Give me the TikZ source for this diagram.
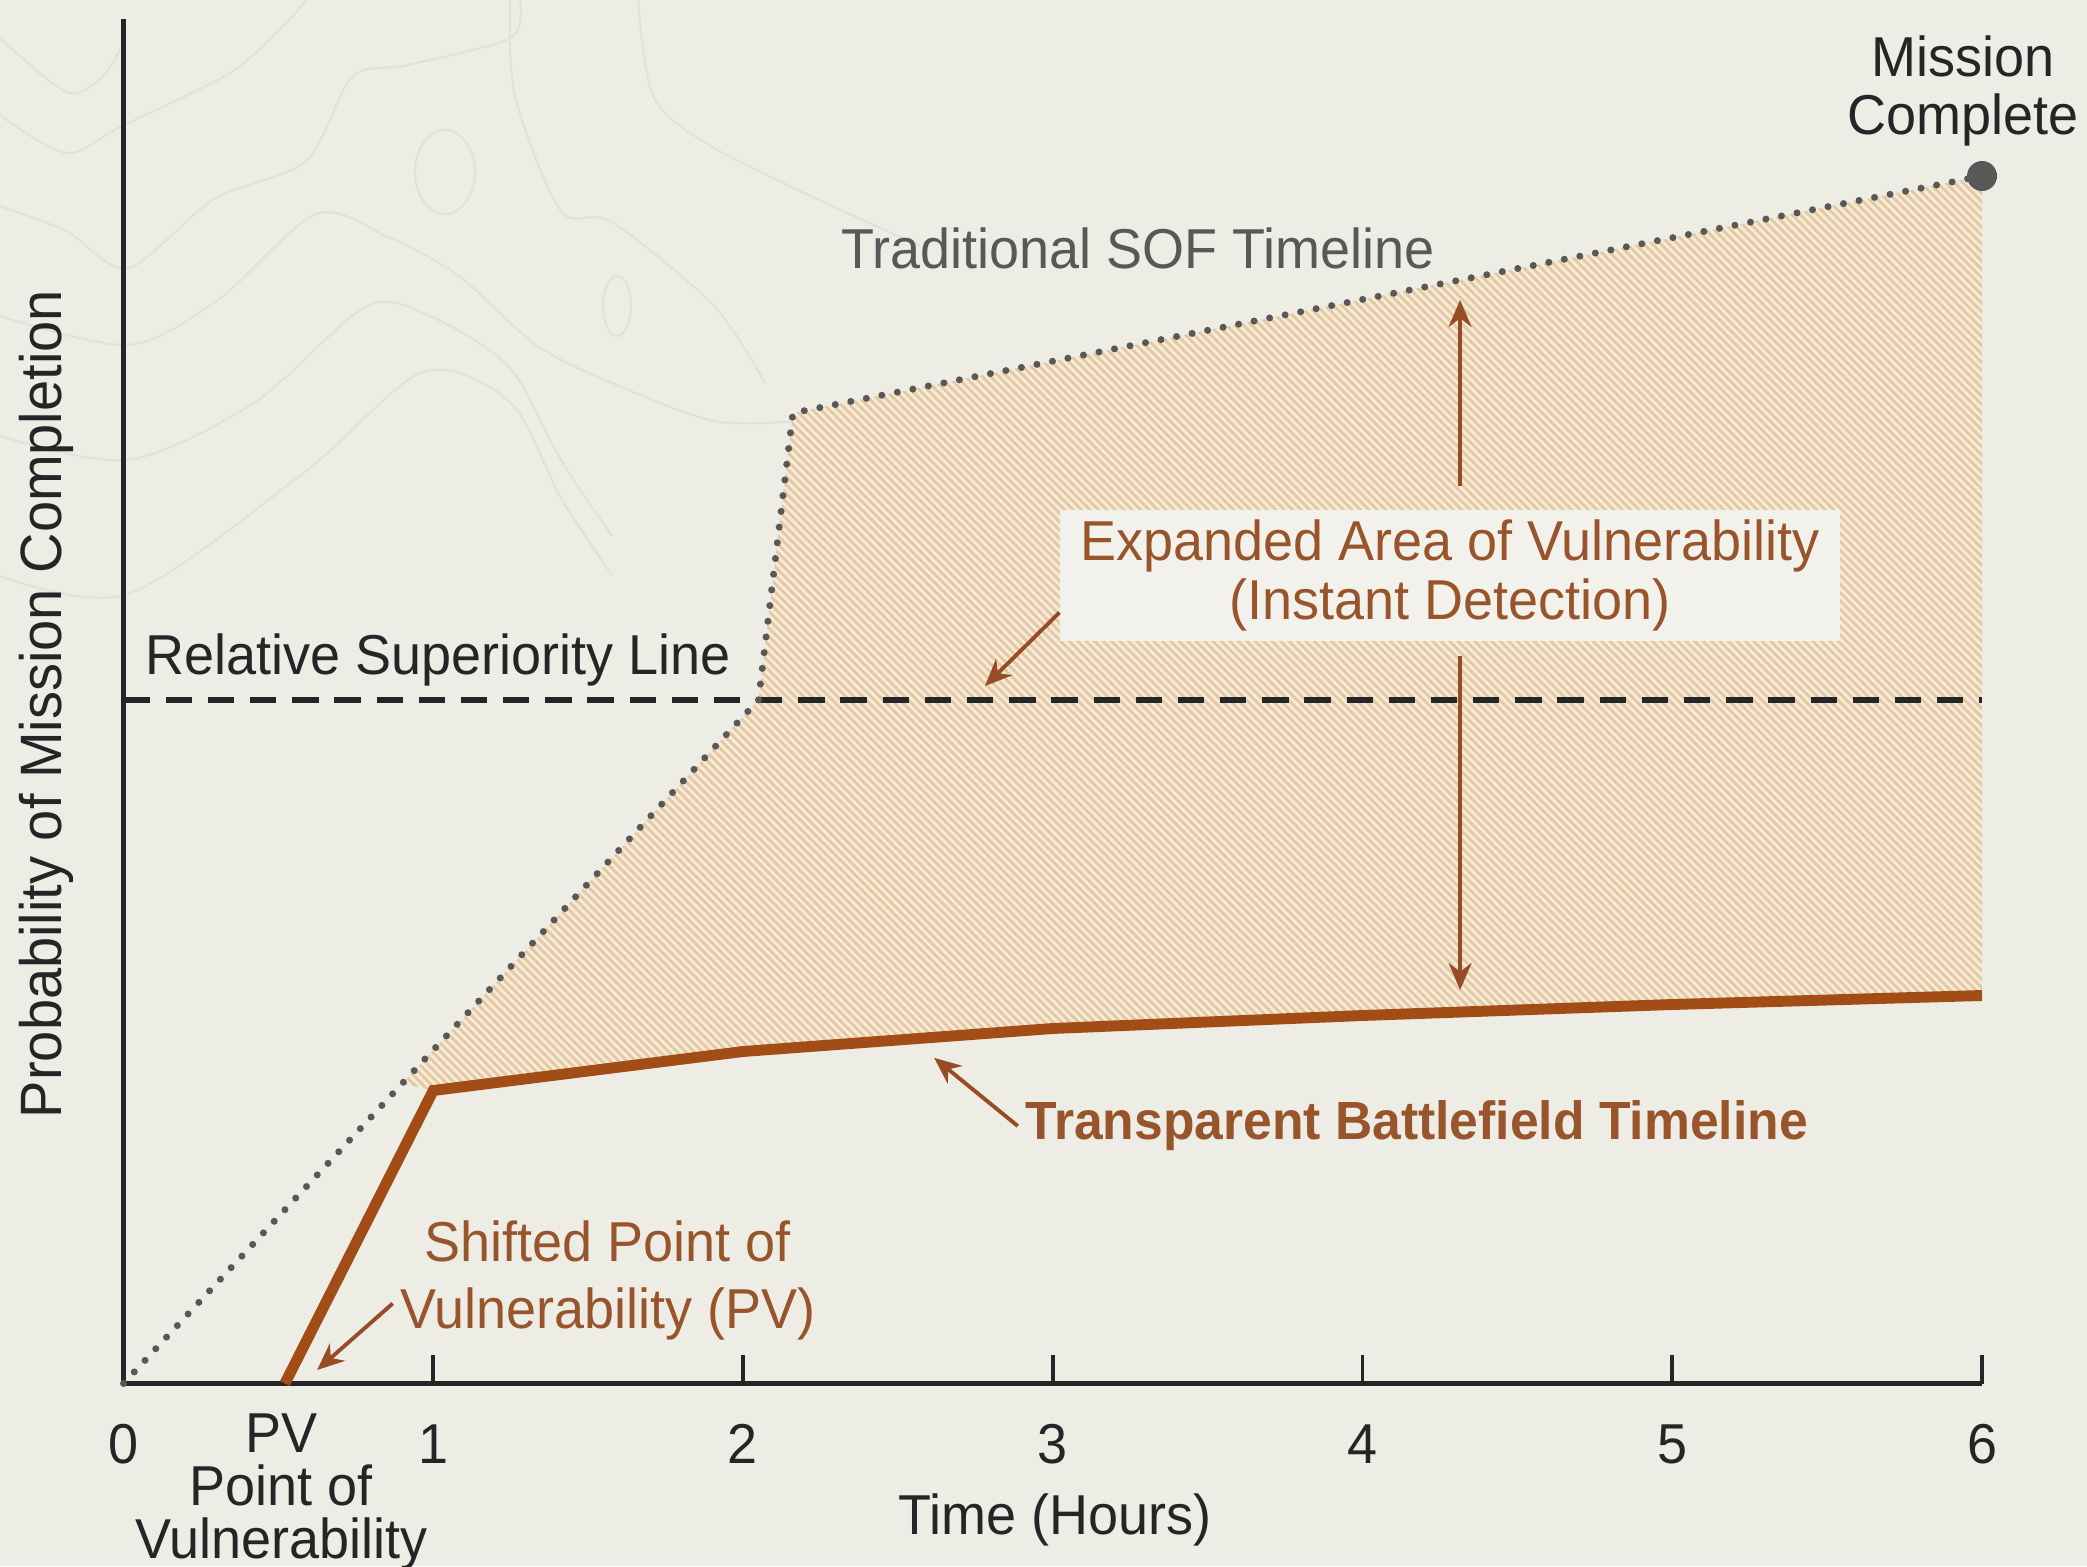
\documentclass[tikz,border=0pt]{standalone}
\usepackage{fontspec}
\setmainfont{Liberation Sans}[FakeStretch=0.96]
\usepackage{tikz}
\usepackage{xcolor}
\usetikzlibrary{arrows.meta, positioning, calc, patterns.meta}
\definecolor{bgcolor}{RGB}{237,236,229}
\definecolor{contourcolor}{RGB}{226,225,218}
\definecolor{inkcolor}{RGB}{35,38,38}
\definecolor{sofgrey}{RGB}{88,88,88}
\definecolor{tbbrown}{RGB}{162,76,22}
\definecolor{arrowbrown}{RGB}{150,76,36}
\definecolor{textbrown}{RGB}{152,84,42}
\definecolor{hatchbase}{RGB}{247,234,214}
\definecolor{hatchline}{RGB}{226,200,165}
\definecolor{boxcolor}{RGB}{243,241,235}
\newcommand{\lblfont}{\fontsize{16}{17}\selectfont}
\tikzstyle{contour} = [draw=contourcolor, line width=0.6pt]
\tikzstyle{axisline} = [draw=inkcolor, line width=1.2pt]
\tikzstyle{tickmark} = [draw=inkcolor, line width=1.1pt]
\tikzstyle{sofline} = [draw=sofgrey, line width=2pt, line cap=round, dash pattern=on 0pt off 4.5pt]
\tikzstyle{rsline} = [draw=inkcolor, line width=1.6pt, dash pattern=on 7.5pt off 4.5pt]
\tikzstyle{tbline} = [draw=tbbrown, line width=3.1pt]
\tikzstyle{hatched} = [fill=hatchbase, postaction={pattern={Lines[angle=-45, distance=1.7pt, line width=0.8pt]}, pattern color=hatchline}]
\tikzstyle{callout} = [-{Stealth[length=2.7mm, width=2.3mm]}, draw=arrowbrown, line width=1.1pt]
\tikzstyle{dimline} = [-{Stealth[length=2.7mm, width=2.3mm]}, draw=arrowbrown, line width=1pt]
\tikzstyle{plaintext} = [font=\lblfont, text=inkcolor, inner sep=2pt]
\tikzstyle{browntext} = [font=\lblfont, text=textbrown, align=center, inner sep=2pt]

\begin{document}
\begin{tikzpicture}
    \useasboundingbox (0,0) rectangle (20.87,15.66);
    \fill[bgcolor] (0,0) rectangle (20.87,15.66);

    % faint map contours
    \draw[contour] plot[smooth] coordinates {(0,14.51) (0.66,14.13) (1.22,14.40) (2.30,14.93) (2.86,15.43) (3.06,15.66)};
    \draw[contour] plot[smooth] coordinates {(0,15.28) (0.66,14.74) (1.02,14.89) (1.22,15.20)};
    \draw[contour] plot[smooth] coordinates {(0,13.60) (0.66,13.35) (1.28,12.98) (2.14,13.67) (3.06,14.05) (3.52,14.89) (4.08,15.01) (5.10,15.28) (5.20,15.66)};
    \draw[contour] plot[smooth] coordinates {(0,12.50) (1.28,12.21) (2.19,12.67) (3.16,13.52) (3.88,13.29) (4.59,12.90) (5.36,12.21) (6.12,11.83) (7.14,11.45) (7.96,11.45)};
    \draw[contour] plot[smooth] coordinates {(0,11.30) (1.28,11.06) (2.55,11.64) (3.67,12.60) (4.34,12.48) (5.10,11.98) (5.61,11.06) (6.12,10.30)};
    \draw[contour] plot[smooth] coordinates {(0,9.90) (1.28,9.72) (3.06,10.95) (4.23,11.94) (5.10,11.64) (5.61,10.68) (6.12,9.91)};
    \draw[contour] plot[smooth] coordinates {(5.10,15.66) (5.15,14.70) (5.61,13.55) (6.12,13.44) (7.14,12.60) (7.65,11.83)};
    \draw[contour] plot[smooth] coordinates {(6.38,15.66) (6.53,14.70) (7.04,14.24) (8.00,13.75) (9.20,13.20)};
    \draw[contour] (4.45,13.94) ellipse (0.3 and 0.42);
    \draw[contour] (6.17,12.60) ellipse (0.14 and 0.3);

    \begin{scope}[shift={(1.235,1.825)}, x=3.0975cm, y=1cm]
    % chart points
    \coordinate (origin) at (0,0);
    \coordinate (ytop) at (0,13.64);
    \coordinate (xend) at (6,0);
    \coordinate (sof1) at (2.05,6.835);
    \coordinate (sof2) at (2.161,9.705);
    \coordinate (mc) at (6,12.075);
    \coordinate (pv) at (0.521,0);
    \coordinate (tb1) at (1,2.93);
    \coordinate (tb2) at (2,3.32);
    \coordinate (tb3) at (3,3.55);
    \coordinate (tb4) at (4,3.68);
    \coordinate (tb5) at (5,3.79);
    \coordinate (tb6) at (6,3.88);
    \coordinate (rs0) at (0,6.835);
    \coordinate (rs6) at (6,6.835);

    % area between the two timelines
    \path[hatched] (tb1) -- (0.9,3.0) -- (sof1) -- (sof2) -- (mc) -- (tb6) -- (tb5) -- (tb4) -- (tb3) -- (tb2) -- cycle;

    % axes
    \draw[axisline] (ytop) -- (origin) -- (xend);
    \node[plaintext] (t0) at (0,-0.605) {0};
    \foreach \h in {1,...,6} {
        \draw[tickmark] (\h,0) -- (\h,0.29);
        \node[plaintext] (t\h) at (\h,-0.605) {\h};
    }
    \node[plaintext, align=center, font=\fontsize{16}{15}\selectfont] (pvl) at (0.509,-1.085) {PV\\Point of\\Vulnerability};
    \node[plaintext] (timel) at (3.007,-1.365) {Time (Hours)};
    \node[plaintext, rotate=90, font=\fontsize{16.6}{18}\selectfont] (ylabel) at (-0.248,6.795) {Probability of Mission Completion};

    % timelines
    \draw[rsline] (rs0) -- (rs6);
    \draw[sofline] (origin) -- (sof1) -- (sof2) -- (mc);
    \fill[sofgrey] (mc) circle[radius=1.5mm];
    \draw[tbline] (pv) -- (tb1) -- (tb2) -- (tb3) -- (tb4) -- (tb5) -- (tb6);

    % labels
    \node[plaintext, text=sofgrey] (sofl) at (3.275,11.355) {Traditional SOF Timeline};
    \node[plaintext] (rsl) at (1.015,7.235) {Relative Superiority Line};
    \node[plaintext, align=center, font=\fontsize{16}{16.5}\selectfont] (mcl) at (5.94,12.925) {Mission\\Complete};

    \node[browntext, fill=boxcolor, minimum width=7.8cm, minimum height=1.31cm] (area) at (4.283,8.08) {Expanded Area of Vulnerability\\(Instant Detection)};
    \coordinate (vtop) at (4.315,10.835);
    \coordinate (vbot) at (4.315,3.935);
    \coordinate (areatip) at (2.781,6.975);
    \draw[dimline] ($(area.north -| vtop)+(0,0.23)$) -- (vtop);
    \draw[dimline] ($(area.south -| vbot)+(0,-0.14)$) -- (vbot);
    \draw[callout] ([yshift=-3.7mm]area.west) -- (areatip);

    \node[browntext, font=\bfseries\fontsize{15.3}{17}\selectfont, anchor=west] (tbl) at (2.887,2.575) {Transparent Battlefield Timeline};
    \coordinate (tbtip) at (2.617,3.257);
    \draw[callout] (tbl.west) -- (tbtip);

    \node[browntext, font=\fontsize{16}{19}\selectfont] (spv) at (1.564,1.03) {Shifted Point of\\Vulnerability (PV)};
    \coordinate (spvtip) at (0.625,0.135);
    \draw[callout] ([yshift=-2.3mm]spv.west) -- (spvtip);
    \end{scope}
\end{tikzpicture}
\end{document}
